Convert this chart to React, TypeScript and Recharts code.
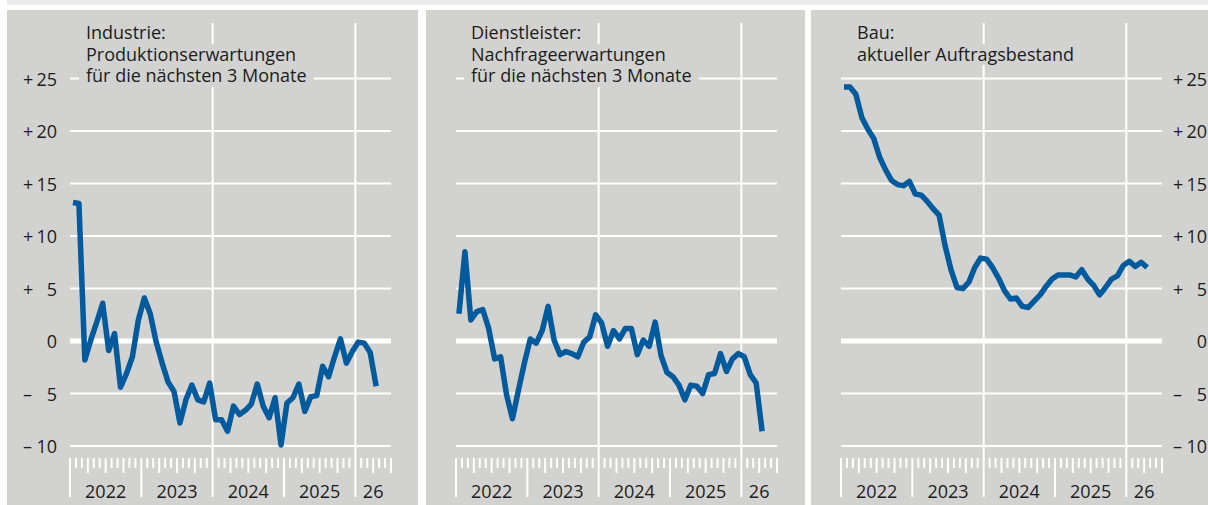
import { Line, LineChart, ReferenceLine, XAxis, YAxis } from "recharts";

// monthly values, Jan 2022 .. Apr 2026
const industrie = [
  13.2, 13.1, -1.8, 0.1, 1.8, 3.6, -0.9, 0.7, -4.4, -3.1, -1.5, 2.0,
  4.1, 2.6, -0.1, -2.1, -3.9, -4.8, -7.8, -5.6, -4.2, -5.6, -5.8, -4.0,
  -7.5, -7.5, -8.6, -6.2, -7.0, -6.6, -6.0, -4.1, -6.2, -7.3, -5.4, -9.9,
  -5.9, -5.4, -4.1, -6.7, -5.3, -5.2, -2.4, -3.4, -1.5, 0.2, -2.1, -1.0,
  -0.1, -0.2, -1.1, -4.3
];

const dienstleister = [
  2.6, 8.5, 2.0, 2.8, 3.0, 1.2, -1.7, -1.5, -5.1, -7.4, -4.7, -2.1,
  0.2, -0.2, 1.0, 3.3, 0.1, -1.3, -1.0, -1.2, -1.5, -0.1, 0.4, 2.5,
  1.7, -0.5, 1.0, 0.2, 1.2, 1.2, -1.3, 0.1, -0.5, 1.8, -1.4, -3.0,
  -3.4, -4.2, -5.6, -4.2, -4.3, -5.0, -3.2, -3.1, -1.2, -2.9, -1.7, -1.2,
  -1.5, -3.2, -4.0, -8.6
];

const bau = [
  24.2, 24.2, 23.5, 21.3, 20.2, 19.3, 17.5, 16.3, 15.3, 14.9, 14.8, 15.2,
  14.0, 13.9, 13.3, 12.6, 12.0, 9.1, 6.8, 5.1, 5.0, 5.6, 7.0, 7.9,
  7.8, 7.0, 6.0, 4.8, 4.0, 4.1, 3.3, 3.2, 3.8, 4.4, 5.2, 5.9,
  6.3, 6.3, 6.3, 6.1, 6.8, 5.9, 5.3, 4.4, 5.1, 5.9, 6.2, 7.2,
  7.6, 7.1, 7.5, 7.0
];

const yearLabels = ["2022", "2023", "2024", "2025", "26"];
const yTicks = [-10, -5, 0, 5, 10, 15, 20, 25];

const MONTHS = 54; // axis runs Jan 2022 .. end of Jun 2026
const monthTicks = Array.from({ length: MONTHS + 1 }, (_, i) => i);
const labelAt = new Map<number, string>(
  yearLabels.map((label, k) => [(12 * k + Math.min(12 * k + 12, MONTHS)) / 2, label])
);

const toRows = (values: number[]) => values.map((v, i) => ({ m: i + 0.5, v }));

const BG = "#d2d2d0";
const BLUE = "#005a9b";
const FONT = "'Open Sans', sans-serif";
const TEXT = "#1c1c1c";
const FS = 18;

function MonthTick({ x, y, payload }: any) {
  const m = payload.value;
  const len = m % 12 === 0 ? 39 : m % 3 === 0 ? 15 : 10;
  const lab = labelAt.get(m);
  return (
    <g>
      <line x1={x} x2={x} y1={y} y2={y + len} stroke="#fff" strokeWidth={2} />
      {lab && (
        <text x={x} y={y + 40} textAnchor="middle" fontSize={FS} fontFamily={FONT} fill={TEXT}>
          {lab}
        </text>
      )}
    </g>
  );
}

function makeValueTick(signX: number, numX: number) {
  return function ValueTick({ y, payload }: any) {
    const v = payload.value;
    const sign = v > 0 ? "+" : v < 0 ? "–" : "";
    return (
      <g fontSize={FS} fontFamily={FONT} fill={TEXT}>
        {sign && <text x={signX} y={y + 7}>{sign}</text>}
        <text x={numX} y={y + 7} textAnchor="end">{Math.abs(v)}</text>
      </g>
    );
  };
}

type PanelProps = {
  values: number[];
  title: string[];
  left: number;
  width: number;
  axis: "left" | "right" | "none";
  titleX: number;
};

function Panel({ values, title, left, width, axis, titleX }: PanelProps) {
  const height = 495;
  const margin =
    axis === "left"
      ? { top: 13, right: 27, left: 0, bottom: 0 }
      : axis === "right"
      ? { top: 13, right: 0, left: 30, bottom: 0 }
      : { top: 13, right: 28, left: 30, bottom: 0 };
  return (
    <div style={{ position: "absolute", left, top: 10, width, height, background: BG }}>
      <LineChart width={width} height={height} data={toRows(values)} margin={margin}>
        <XAxis
          dataKey="m"
          type="number"
          domain={[0, MONTHS]}
          ticks={monthTicks}
          interval={0}
          tick={<MonthTick />}
          tickLine={false}
          axisLine={false}
          tickSize={0}
          tickMargin={0}
          height={47}
        />
        {axis === "none" ? (
          <YAxis hide type="number" domain={[-11.14, 30.29]} ticks={yTicks} allowDataOverflow />
        ) : (
          <YAxis
            type="number"
            orientation={axis}
            domain={[-11.14, 30.29]}
            ticks={yTicks}
            interval={0}
            allowDataOverflow
            axisLine={false}
            tickLine={false}
            tickSize={0}
            tickMargin={0}
            width={axis === "left" ? 63 : 46}
            tick={axis === "left" ? makeValueTick(16, 50) : makeValueTick(362, 396)}
          />
        )}
        {yTicks.map((t) => (
          <ReferenceLine key={"h" + t} y={t} stroke="#ffffff" strokeWidth={t === 0 ? 5 : 2} />
        ))}
        <ReferenceLine x={24} stroke="#ffffff" strokeWidth={2} />
        <ReferenceLine x={48} stroke="#ffffff" strokeWidth={2} />
        <Line
          type="linear"
          dataKey="v"
          stroke={BLUE}
          strokeWidth={5.5}
          strokeLinejoin="round"
          dot={false}
          isAnimationActive={false}
        />
      </LineChart>
      <div
        style={{
          position: "absolute",
          left: titleX - left - 7,
          top: 12,
          fontFamily: FONT,
          fontSize: FS,
          lineHeight: "21.5px",
          color: TEXT
        }}
      >
        {title.map((t) => (
          <div key={t} style={{ height: 21.5 }}>
            <span
              style={{
                display: "inline-block",
                background: BG,
                padding: "0 7px",
                whiteSpace: "nowrap",
                lineHeight: "21.5px",
                height: 21.5
              }}
            >
              {t}
            </span>
          </div>
        ))}
      </div>
    </div>
  );
}

export default function App() {
  return (
    <div style={{ position: "absolute", left: 0, top: 0, width: 1208, height: 505, background: "#fff", overflow: "hidden" }}>
      <div style={{ position: "absolute", left: 7, top: 0, width: 1201, height: 5, background: "#ebebeb" }} />
      <Panel
        values={industrie}
        title={["Industrie:", "Produktionserwartungen", "für die nächsten 3 Monate"]}
        left={7}
        width={411}
        axis="left"
        titleX={86}
      />
      <Panel
        values={dienstleister}
        title={["Dienstleister:", "Nachfrageerwartungen", "für die nächsten 3 Monate"]}
        left={426}
        width={379}
        axis="none"
        titleX={471}
      />
      <Panel
        values={bau}
        title={["Bau:", "aktueller Auftragsbestand"]}
        left={811}
        width={397}
        axis="right"
        titleX={857}
      />
    </div>
  );
}
